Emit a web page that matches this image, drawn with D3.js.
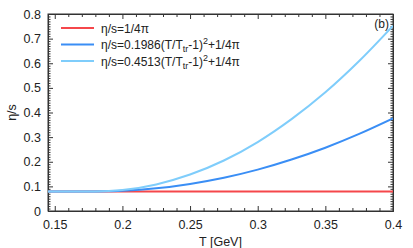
<!DOCTYPE html>
<html>
<head>
<meta charset="utf-8">
<script src="https://cdn.jsdelivr.net/npm/d3@7"></script>
<style>
  body { margin: 0; background: #fff; }
  text { font-family: "Liberation Sans", Arial, sans-serif; fill: #222; }
</style>
</head>
<body>
<svg id="chart" width="413" height="248"></svg>
<script>
// values
var temps = [0.145, 0.15, 0.175, 0.18, 0.19, 0.2, 0.225, 0.25, 0.275, 0.3, 0.325, 0.35, 0.375, 0.4];
var etaConst = [0.0796, 0.0796, 0.0796, 0.0796, 0.0796, 0.0796, 0.0796, 0.0796, 0.0796, 0.0796, 0.0796, 0.0796, 0.0796, 0.0796];
var etaLow = [0.0796, 0.0796, 0.0796, 0.0796, 0.080, 0.082, 0.092, 0.110, 0.135, 0.168, 0.209, 0.257, 0.313, 0.376];
var etaHigh = [0.0796, 0.0796, 0.0796, 0.0796, 0.081, 0.085, 0.108, 0.148, 0.205, 0.280, 0.373, 0.482, 0.609, 0.752];
var seriesNames = ['η/s=1/4π', 'η/s=0.1986(T/T_tr-1)^2+1/4π', 'η/s=0.4513(T/T_tr-1)^2+1/4π'];
var seriesColors = ['#f5474b', '#3a8ef5', '#7fcdfb'];
var xTicks = [0.15, 0.2, 0.25, 0.3, 0.35, 0.4];
var yTicks = [0, 0.1, 0.2, 0.3, 0.4, 0.5, 0.6, 0.7, 0.8];

var margin = {top: 14, right: 20, bottom: 37, left: 48}
  , width = 413 - margin.left - margin.right
  , height = 248 - margin.top - margin.bottom
  ;

var svg = d3.select('#chart');
var g = svg.append('g')
    .attr('transform', 'translate(' + margin.left + ',' + margin.top + ')');

var x = d3.scaleLinear().domain([0.145, 0.4]).range([0, width]);
var y = d3.scaleLinear().domain([0, 0.8]).range([height, 0]);

var xMinor = d3.range(0.15, 0.4001, 0.01).filter(function (d) { return Math.abs(d * 20 - Math.round(d * 20)) > 1e-6; });
var yMinor = d3.range(0, 0.8001, 0.01).filter(function (d) { return Math.abs(d * 10 - Math.round(d * 10)) > 1e-6; });

function tickFmt(d) { return d === 0 ? '0' : d3.format('.2~f')(d); }

// axes, ticks pointing inward on all four sides
g.append('g').attr('transform', 'translate(0,' + height + ')')
    .call(d3.axisBottom(x).tickValues(xTicks).tickFormat(tickFmt).tickSizeInner(-5).tickSizeOuter(0).tickPadding(9));
g.append('g').attr('transform', 'translate(0,' + height + ')')
    .call(d3.axisBottom(x).tickValues(xMinor).tickFormat('').tickSizeInner(-3).tickSizeOuter(0));
g.append('g')
    .call(d3.axisTop(x).tickValues(xTicks).tickFormat('').tickSizeInner(-5).tickSizeOuter(0));
g.append('g')
    .call(d3.axisTop(x).tickValues(xMinor).tickFormat('').tickSizeInner(-3).tickSizeOuter(0));
g.append('g')
    .call(d3.axisLeft(y).tickValues(yTicks).tickFormat(tickFmt).tickSizeInner(-5).tickSizeOuter(0).tickPadding(7));
g.append('g')
    .call(d3.axisLeft(y).tickValues(yMinor).tickFormat('').tickSizeInner(-2.5).tickSizeOuter(0));
g.append('g').attr('transform', 'translate(' + width + ',0)')
    .call(d3.axisRight(y).tickValues(yTicks).tickFormat('').tickSizeInner(-5).tickSizeOuter(0));
g.append('g').attr('transform', 'translate(' + width + ',0)')
    .call(d3.axisRight(y).tickValues(yMinor).tickFormat('').tickSizeInner(-2.5).tickSizeOuter(0));

g.selectAll('.domain').attr('stroke', '#333');
g.selectAll('.tick line').attr('stroke', '#333');
g.selectAll('.tick text').style('font-size', '12.5px').attr('fill', '#222');

g.append('rect')
    .attr('width', width).attr('height', height)
    .attr('fill', 'none').attr('stroke', '#333');

// curves
var series = [etaConst, etaLow, etaHigh];
var line = d3.line()
    .x(function (d) { return x(d[0]); })
    .y(function (d) { return y(d[1]); })
    .curve(d3.curveMonotoneX);

g.append('defs').append('clipPath').attr('id', 'clip')
  .append('rect').attr('width', width).attr('height', height);

g.append('g').attr('clip-path', 'url(#clip)')
  .selectAll('path')
    .data(series)
  .enter().append('path')
    .attr('d', function (vals) { return line(d3.zip(temps, vals)); })
    .attr('fill', 'none')
    .attr('stroke', function (d, i) { return seriesColors[i]; })
    .attr('stroke-width', 2);

// legend
var legend = g.selectAll('.legend')
    .data(seriesNames)
  .enter().append('g')
    .attr('transform', function (d, i) { return 'translate(13,' + (14 + i * 16.5) + ')'; });

legend.append('line')
    .attr('x1', 0).attr('x2', 33)
    .attr('stroke', function (d, i) { return seriesColors[i]; })
    .attr('stroke-width', 2);

legend.append('text')
    .attr('x', 40).attr('y', 4.5)
    .style('font-size', '12px')
    .each(function (d) {
      var t = d3.select(this);
      var m = d.match(/^(.*)T_tr-1\)\^2(.*)$/);
      if (!m) { t.text(d); return; }
      t.append('tspan').text(m[1] + 'T');
      t.append('tspan').attr('dy', 3).style('font-size', '9px').text('tr');
      t.append('tspan').attr('dy', -3).text('-1)');
      t.append('tspan').attr('dy', -5).style('font-size', '9px').text('2');
      t.append('tspan').attr('dy', 5).text(m[2]);
    });

g.append('text')
    .attr('x', width - 4).attr('y', 14)
    .attr('text-anchor', 'end')
    .style('font-size', '12px')
    .text('(b)');

// axis titles
svg.append('text')
    .attr('x', margin.left + width / 2).attr('y', 246)
    .attr('text-anchor', 'middle')
    .style('font-size', '12.5px')
    .text('T [GeV]');

svg.append('text')
    .attr('transform', 'translate(16,' + (margin.top + height / 2) + ') rotate(-90)')
    .attr('text-anchor', 'middle')
    .style('font-size', '12.5px')
    .text('η/s');
</script>
</body>
</html>
